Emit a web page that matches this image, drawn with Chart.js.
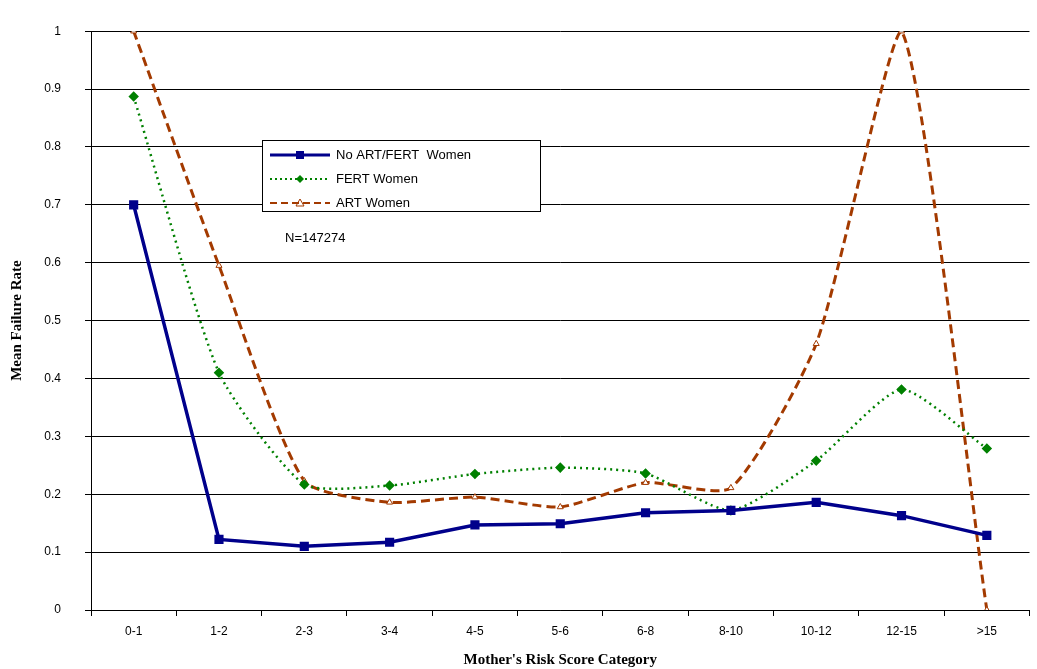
<!DOCTYPE html>
<html><head>
<script src="https://cdn.jsdelivr.net/npm/chart.js@4"></script>
<style>body{margin:0;background:#fff}#wrap{width:1037px;height:669px}</style>
</head><body>
<div id="wrap"><canvas id="c"></canvas></div>
<script>
var categories = ['0-1','1-2','2-3','3-4','4-5','5-6','6-8','8-10','10-12','12-15','>15'];
var noArt = [0.70,0.122,0.110,0.117,0.147,0.149,0.168,0.172,0.186,0.163,0.129];
var fert  = [0.887,0.41,0.217,0.215,0.235,0.246,0.236,0.172,0.258,0.381,0.279];
var art   = [1.0,0.595,0.223,0.186,0.195,0.178,0.220,0.211,0.460,1.0,0.0];

var boxLegend = {
  id: 'boxLegend',
  afterDraw: function(chart){
    var ctx = chart.ctx;
    ctx.save();
    ctx.fillStyle = '#fff'; ctx.strokeStyle = '#000'; ctx.lineWidth = 1;
    ctx.fillRect(262.5,140.5,278,71); ctx.strokeRect(262.5,140.5,278,71);
    var items = [
      {t:'No ART/FERT  Women', c:'#00008B', d:[], w:3, m:'sq'},
      {t:'FERT Women', c:'#008000', d:[2,3], w:2, m:'dia'},
      {t:'ART Women', c:'#A33A00', d:[7,4], w:2, m:'tri'}
    ];
    ctx.font = '13px "Liberation Sans", Arial';
    ctx.textBaseline = 'middle';
    items.forEach(function(it,i){
      var y = 155 + i*24;
      ctx.setLineDash(it.d); ctx.strokeStyle = it.c; ctx.lineWidth = it.w;
      ctx.beginPath(); ctx.moveTo(270,y); ctx.lineTo(330,y); ctx.stroke();
      ctx.setLineDash([]);
      ctx.fillStyle = it.c;
      if (it.m==='sq') ctx.fillRect(296,y-4,8,8);
      else if (it.m==='dia'){ctx.beginPath();ctx.moveTo(300,y-4);ctx.lineTo(304,y);ctx.lineTo(300,y+4);ctx.lineTo(296,y);ctx.fill();}
      else {ctx.lineWidth=1;ctx.beginPath();ctx.moveTo(300,y-4);ctx.lineTo(304,y+3);ctx.lineTo(296,y+3);ctx.closePath();ctx.stroke();}
      ctx.fillStyle = '#000';
      ctx.fillText(it.t, 336, y);
    });
    ctx.fillText('N=147274', 285, 238);
    ctx.restore();
  }
};

new Chart(document.getElementById('c'), {
  type: 'line',
  data: {
    labels: categories,
    datasets: [
      {label:'No ART/FERT  Women', data:noArt, borderColor:'#00008B', backgroundColor:'#00008B',
       borderWidth:3.5, pointStyle:'rect', pointRadius:4, tension:0},
      {label:'FERT Women', data:fert, borderColor:'#008000', backgroundColor:'#008000',
       borderWidth:2.5, borderDash:[2,4], pointStyle:'rectRot', pointRadius:3.5, tension:0.2},
      {label:'ART Women', data:art, borderColor:'#A33A00', backgroundColor:'#fff',
       borderWidth:3, borderDash:[9,5], pointStyle:'triangle', pointRadius:3.5, pointBorderWidth:1, tension:0.2}
    ]
  },
  options: {
    responsive:true, maintainAspectRatio:false, animation:false,
    layout:{padding:{top:-8,right:0,bottom:0,left:4}},
    plugins:{legend:{display:false}, tooltip:{enabled:false}},
    scales:{
      x:{offset:true,
        afterFit:function(s){ s.height = 59; },
        grid:{display:true, offset:true, drawOnChartArea:false, color:'#000', tickLength:6},
        border:{color:'#000'},
        ticks:{color:'#000', padding:8, font:{size:12, family:'"Liberation Sans", Arial'}},
        title:{display:true, text:"Mother's Risk Score Category", color:'#000',
          font:{size:15, weight:'bold', family:'"Liberation Serif", "Times New Roman"'}, padding:{top:2,bottom:0}}
      },
      y:{min:0, max:1,
        afterFit:function(s){ s.width = 87; },
        ticks:{stepSize:0.1, color:'#000', padding:24, font:{size:12, family:'"Liberation Sans", Arial'},
          callback:function(v){return Math.round(v*10)/10;}},
        grid:{color:'#000', tickLength:6},
        border:{color:'#000'},
        title:{display:true, text:'Mean Failure Rate', color:'#000',
          font:{size:15, weight:'bold', family:'"Liberation Serif", "Times New Roman"'}}
      }
    }
  },
  plugins:[boxLegend]
});
</script>
</body></html>
